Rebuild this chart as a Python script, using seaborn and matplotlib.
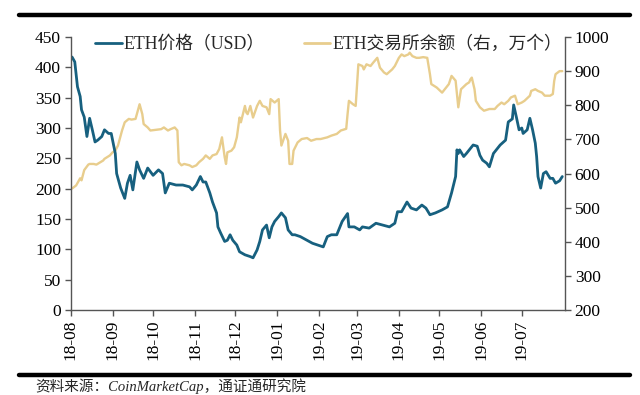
import matplotlib
matplotlib.use("Agg")
import matplotlib.pyplot as plt
from matplotlib.lines import Line2D
import seaborn as sns
import pandas as pd

# ---------------- data ----------------
price_dates = [
    "2018-08-02", "2018-08-04", "2018-08-06", "2018-08-08", "2018-08-09", "2018-08-11", "2018-08-13",
    "2018-08-15", "2018-08-17", "2018-08-19", "2018-08-21", "2018-08-24", "2018-08-26", "2018-08-29",
    "2018-08-31", "2018-09-03", "2018-09-04", "2018-09-07", "2018-09-10", "2018-09-12", "2018-09-14",
    "2018-09-16", "2018-09-19", "2018-09-21", "2018-09-24", "2018-09-27", "2018-10-01", "2018-10-05",
    "2018-10-08", "2018-10-10", "2018-10-13", "2018-10-18", "2018-10-23", "2018-10-28", "2018-10-30",
    "2018-11-02", "2018-11-05", "2018-11-07", "2018-11-09", "2018-11-12", "2018-11-14", "2018-11-17",
    "2018-11-18", "2018-11-20", "2018-11-23", "2018-11-25", "2018-11-27", "2018-11-29", "2018-12-02",
    "2018-12-04", "2018-12-08", "2018-12-12", "2018-12-14", "2018-12-17", "2018-12-19", "2018-12-21",
    "2018-12-24", "2018-12-26", "2018-12-28", "2018-12-30", "2019-01-02", "2019-01-04", "2019-01-07",
    "2019-01-09", "2019-01-12", "2019-01-14", "2019-01-18", "2019-01-23", "2019-01-27", "2019-01-31",
    "2019-02-04", "2019-02-07", "2019-02-10", "2019-02-14", "2019-02-18", "2019-02-22", "2019-02-23",
    "2019-02-27", "2019-03-03", "2019-03-05", "2019-03-10", "2019-03-15", "2019-03-20", "2019-03-25",
    "2019-03-29", "2019-03-31", "2019-04-03", "2019-04-07", "2019-04-10", "2019-04-14", "2019-04-18",
    "2019-04-21", "2019-04-24", "2019-04-28", "2019-05-03", "2019-05-07", "2019-05-10", "2019-05-13",
    "2019-05-14", "2019-05-15", "2019-05-16", "2019-05-19", "2019-05-21", "2019-05-26", "2019-05-29",
    "2019-05-31", "2019-06-02", "2019-06-05", "2019-06-07", "2019-06-10", "2019-06-15", "2019-06-19",
    "2019-06-21", "2019-06-24", "2019-06-25", "2019-06-27", "2019-06-29", "2019-07-01", "2019-07-02",
    "2019-07-05", "2019-07-07", "2019-07-09", "2019-07-11", "2019-07-12", "2019-07-13", "2019-07-15",
    "2019-07-17", "2019-07-19", "2019-07-22", "2019-07-24", "2019-07-26", "2019-07-29", "2019-07-31",
]
price_usd = [
    417, 409, 368, 352, 330, 318, 286,
    316, 297, 277, 280, 286, 297, 291,
    291, 258, 225, 201, 184, 209, 222,
    198, 244, 231, 217, 234, 222, 231,
    225, 193, 209, 206, 206, 203, 198,
    206, 220, 211, 211, 193, 178, 160,
    137, 127, 113, 115, 124, 115, 107,
    96, 91, 88, 86, 99, 113, 132,
    140, 119, 137, 146, 154, 160, 152,
    132, 124, 124, 121, 115, 110, 107,
    104, 121, 124, 124, 146, 159, 137,
    137, 132, 137, 135, 143, 140, 137,
    143, 162, 162, 178, 168, 165, 173,
    168, 157, 160, 165, 170, 193, 220,
    264, 258, 264, 253, 258, 272, 270,
    255, 247, 242, 236, 258, 272, 280,
    310, 315, 338, 318, 297, 300, 291,
    297, 316, 297, 275, 253, 220, 201,
    225, 228, 217, 217, 209, 213, 220,
]

balance_dates = [
    "2018-08-02", "2018-08-05", "2018-08-08", "2018-08-09", "2018-08-11", "2018-08-14", "2018-08-15",
    "2018-08-18", "2018-08-20", "2018-08-23", "2018-08-25", "2018-08-26", "2018-08-30", "2018-09-01",
    "2018-09-03", "2018-09-05", "2018-09-08", "2018-09-10", "2018-09-13", "2018-09-15", "2018-09-18",
    "2018-09-19", "2018-09-21", "2018-09-23", "2018-09-24", "2018-09-27", "2018-09-29", "2018-10-03",
    "2018-10-07", "2018-10-09", "2018-10-12", "2018-10-14", "2018-10-17", "2018-10-19", "2018-10-20",
    "2018-10-22", "2018-10-24", "2018-10-28", "2018-10-30", "2018-11-02", "2018-11-04", "2018-11-07",
    "2018-11-09", "2018-11-12", "2018-11-14", "2018-11-17", "2018-11-19", "2018-11-21", "2018-11-23",
    "2018-11-24", "2018-11-25", "2018-11-28", "2018-11-30", "2018-12-02", "2018-12-04", "2018-12-05",
    "2018-12-08", "2018-12-09", "2018-12-10", "2018-12-12", "2018-12-14", "2018-12-17", "2018-12-19",
    "2018-12-21", "2018-12-24", "2018-12-26", "2018-12-27", "2018-12-30", "2019-01-02", "2019-01-03",
    "2019-01-04", "2019-01-07", "2019-01-09", "2019-01-10", "2019-01-12", "2019-01-13", "2019-01-16",
    "2019-01-19", "2019-01-23", "2019-01-26", "2019-01-30", "2019-02-02", "2019-02-07", "2019-02-10",
    "2019-02-14", "2019-02-17", "2019-02-21", "2019-02-22", "2019-02-23", "2019-02-26", "2019-02-28",
    "2019-03-01", "2019-03-02", "2019-03-05", "2019-03-06", "2019-03-08", "2019-03-11", "2019-03-13",
    "2019-03-16", "2019-03-18", "2019-03-21", "2019-03-23", "2019-03-27", "2019-03-29", "2019-04-01",
    "2019-04-03", "2019-04-05", "2019-04-08", "2019-04-09", "2019-04-11", "2019-04-14", "2019-04-16",
    "2019-04-19", "2019-04-22", "2019-04-24", "2019-04-25", "2019-04-29", "2019-05-03", "2019-05-05",
    "2019-05-08", "2019-05-10", "2019-05-13", "2019-05-14", "2019-05-15", "2019-05-17", "2019-05-21",
    "2019-05-23", "2019-05-24", "2019-05-25", "2019-05-27", "2019-05-28", "2019-05-31", "2019-06-03",
    "2019-06-07", "2019-06-11", "2019-06-13", "2019-06-16", "2019-06-18", "2019-06-21", "2019-06-23",
    "2019-06-26", "2019-06-28", "2019-07-01", "2019-07-03", "2019-07-07", "2019-07-08", "2019-07-11",
    "2019-07-13", "2019-07-16", "2019-07-18", "2019-07-22", "2019-07-24", "2019-07-25", "2019-07-26",
    "2019-07-29", "2019-07-31",
]
balance_10k = [
    556, 565, 586, 580, 610, 626, 628,
    628, 626, 633, 638, 643, 653, 662,
    667, 682, 726, 750, 760, 758, 760,
    774, 803, 774, 745, 735, 726, 728,
    730, 735, 726, 730, 735, 726, 633,
    624, 628, 624, 619, 624, 633, 643,
    653, 643, 653, 657, 672, 706, 648,
    628, 662, 667, 677, 706, 764, 750,
    798, 779, 774, 798, 764, 798, 813,
    798, 794, 774, 818, 808, 818, 726,
    682, 716, 696, 628, 628, 667, 691,
    701, 704, 696, 701, 701, 706, 711,
    716, 726, 731, 774, 813, 803, 798,
    860, 920, 915, 905, 920, 915, 925,
    939, 910, 896, 891, 905, 915, 939,
    949, 944, 949, 954, 944, 939, 939,
    941, 939, 891, 862, 852, 837, 847,
    862, 886, 872, 833, 794, 847, 862,
    867, 876, 881, 847, 813, 794, 784,
    789, 789, 798, 808, 803, 813, 823,
    828, 803, 808, 813, 828, 842, 847,
    842, 837, 828, 828, 833, 871, 891,
    900, 900,
]

legend_labels = ["ETH价格（USD）", "ETH交易所余额（右，万个）"]
source_text = "资料来源：CoinMarketCap，通证通研究院"

price_df = pd.DataFrame({"date": pd.to_datetime(price_dates), "value": price_usd})
bal_df = pd.DataFrame({"date": pd.to_datetime(balance_dates), "value": balance_10k})

# ---------------- style ----------------
sns.set_theme(style="ticks")
plt.rcParams["font.family"] = ["Liberation Serif", "Noto Sans CJK SC", "DejaVu Sans"]
plt.rcParams["axes.unicode_minus"] = False

BLUE = "#17607f"
TAN = "#e8cd8d"
SPINE = "#555555"

fig = plt.figure(figsize=(6.4, 3.95), dpi=100)
ax = fig.add_axes([0.1105, 0.2152, 0.7723, 0.6911])
ax2 = ax.twinx()

sns.lineplot(data=bal_df, x="date", y="value", ax=ax2, color=TAN, linewidth=1.7)
sns.lineplot(data=price_df, x="date", y="value", ax=ax, color=BLUE, linewidth=2.0)

# put price line on top of balance line
ax.set_zorder(ax2.get_zorder() + 1)
ax.patch.set_visible(False)

ax.set_xlim(pd.Timestamp("2018-08-01"), pd.Timestamp("2019-08-02"))
ax.set_ylim(0, 450)
ax.set_yticks(range(0, 451, 50))
ax2.set_ylim(200, 1000)
ax2.set_yticks(range(200, 1001, 100))

ticks = pd.date_range("2018-08-01", "2019-07-01", freq="MS")
ax.set_xticks(ticks)
ax.set_xticklabels([t.strftime("%y-%m") for t in ticks], rotation=90)

for a in (ax, ax2):
    a.set_xlabel("")
    a.set_ylabel("")
    a.spines["top"].set_visible(False)
    for s in ("left", "right", "bottom"):
        a.spines[s].set_color(SPINE)
        a.spines[s].set_linewidth(1.0)
    a.tick_params(axis="both", labelsize=12.5, colors=SPINE, labelcolor="black",
                  length=4, width=1.0, direction="out", pad=3)
ax.spines["right"].set_visible(False)
ax2.spines["left"].set_visible(False)
ax2.spines["bottom"].set_visible(False)

handles = [Line2D([], [], color=BLUE, linewidth=2.0), Line2D([], [], color=TAN, linewidth=2.0)]
leg = ax.legend(handles, legend_labels, ncol=2, loc="upper left", bbox_to_anchor=(0.035, 1.03),
                frameon=False, fontsize=12.8, handlelength=1.5, handletextpad=0.1,
                columnspacing=2.2, borderaxespad=0.0)

# heavy separator rules and source note
fig.add_artist(Line2D([0.03, 0.985], [1 - 15 / 395, 1 - 15 / 395], color="black", linewidth=3.2,
                      transform=fig.transFigure))
fig.add_artist(Line2D([0.03, 0.985], [1 - 375 / 395, 1 - 375 / 395], color="black", linewidth=3.2,
                      transform=fig.transFigure))
fig.text(0.055, 1 - 378 / 395, source_text, fontsize=10.5, style="italic", va="top", ha="left")

fig.savefig("out.png", dpi=100)
